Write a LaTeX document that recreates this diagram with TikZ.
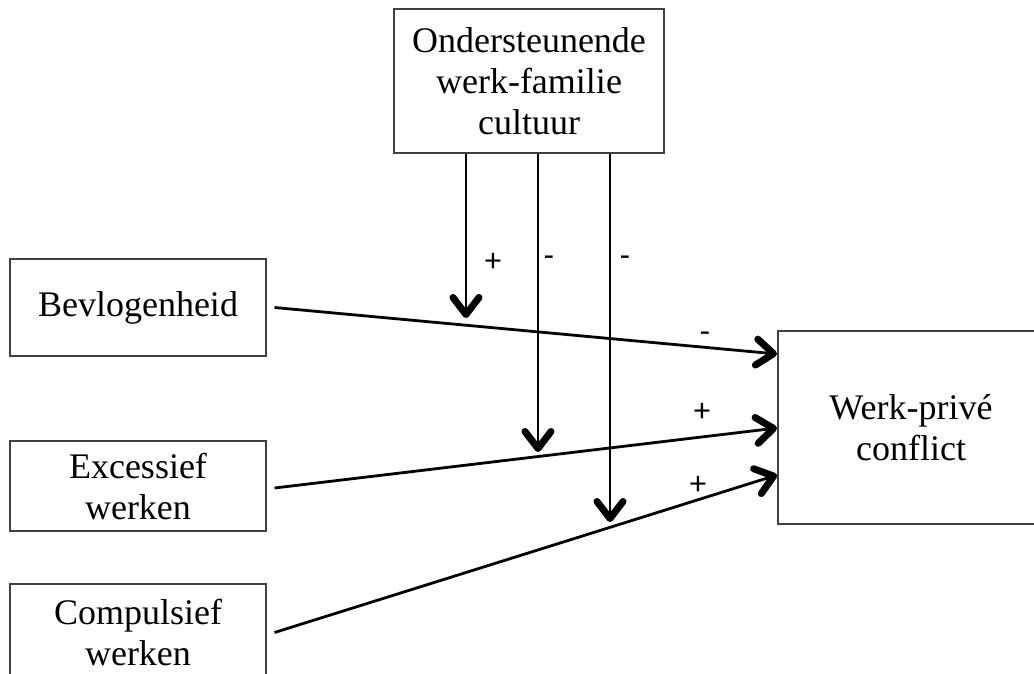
\documentclass[tikz,border=0pt]{standalone}
\usepackage{fontspec}
\setmainfont{Liberation Serif}
\newfontfamily\signfont{Carlito}
\usetikzlibrary{arrows.meta,calc}
\begin{document}
\begin{tikzpicture}[x=1pt,y=-1pt,
  box/.style={draw=black!75,line width=1.1pt,align=center,inner sep=0pt,
    font=\fontsize{36}{41}\selectfont},
  conn/.style={line width=2.8pt,-{Straight Barb[length=17pt,width=26pt,line width=7pt,round]}},
  sign/.style={font=\signfont\fontsize{33}{36}\selectfont,inner sep=0pt}]
\useasboundingbox (0,0) rectangle (1034,673);
\node[box,minimum width=270pt,minimum height=144pt] (mod) at (529,81) {Ondersteunende\\werk-familie\\cultuur};
\node[box,minimum width=256pt,minimum height=97pt] (bev) at (138,307.5) {Bevlogenheid};
\node[box,minimum width=256pt,minimum height=90pt] (exc) at (138,486) {Excessief\\werken};
\node[box,minimum width=256pt,minimum height=97pt] (com) at (138,632.5) {Compulsief\\werken};
\node[box,minimum width=266pt,minimum height=193pt] (wpc) at (911,427.5) {Werk-privé\\conflict};
% vertical moderator arrows
\coordinate (m1) at (466,318);
\coordinate (m2) at (538,452);
\coordinate (m3) at (610,522);
\draw[conn] (mod.south -| m1) -- (m1);
\draw[conn] (mod.south -| m2) -- (m2);
\draw[conn] (mod.south -| m3) -- (m3);
% main arrows
\coordinate (t1) at (777,354);
\coordinate (t2) at (777,428);
\coordinate (t3) at (777,475);
\draw[conn] ($(bev.east)+(8,0)$) -- (t1);
\draw[conn] ($(exc.east)+(8,2)$) -- (t2);
\draw[conn] ($(com.east)+(8,0)$) -- (t3);
% signs
\node[sign] (s1) at (493,262) {+};
\node[sign] (s2) at (549,261) {-};
\node[sign] (s3) at (625,261) {-};
\node[sign] (s4) at (705,337) {-};
\node[sign] (s5) at (702,412) {+};
\node[sign] (s6) at (698,485) {+};
\end{tikzpicture}
\end{document}
